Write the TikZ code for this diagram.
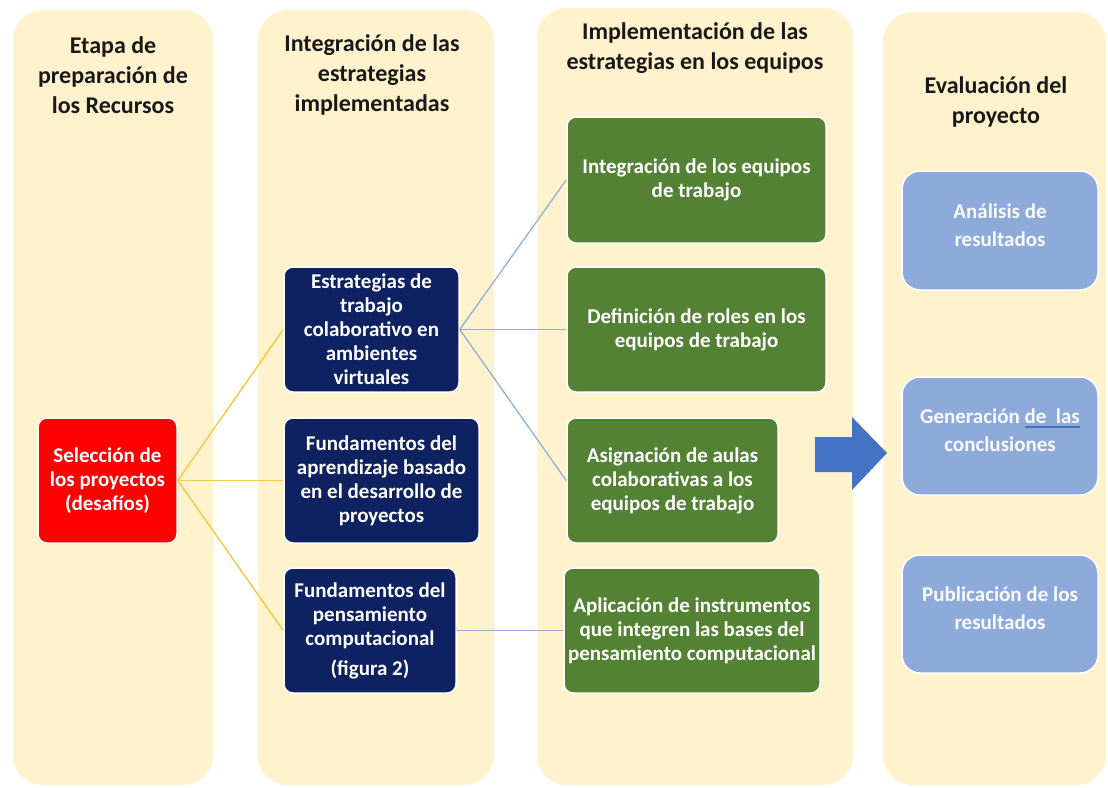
\documentclass[tikz,border=0pt]{standalone}
\usepackage{fontspec}
\setmainfont{Carlito}
\definecolor{beige}{HTML}{FFF2CC}
\definecolor{navy}{HTML}{0E2160}
\definecolor{grn}{HTML}{548235}
\definecolor{redbox}{HTML}{FF0000}
\definecolor{evblue}{HTML}{8EAADB}
\definecolor{arrowblue}{HTML}{4472C4}
\definecolor{yline}{HTML}{F2CB4E}
\definecolor{bline}{HTML}{8FB0DA}
\definecolor{ulblue}{HTML}{4472C4}
\newcommand\boxfont{\bfseries\fontsize{21}{24}\selectfont}
\newcommand\evfont{\bfseries\fontsize{21}{28}\selectfont}
\newcommand\titlefont{\bfseries\fontsize{24}{30}\selectfont}
\newcommand\blueul[1]{\setbox0\hbox{#1}\rlap{\color{ulblue}\rule[-4pt]{\wd0}{2pt}}\box0}
\tikzset{
  column/.style={fill=beige, rounded corners=30pt},
  coltitle/.style={font=\titlefont, text=black!90, align=center, inner sep=0pt},
  basebox/.style={rounded corners=9pt, draw=white, line width=1.5pt, text=white, align=center, inner sep=0pt},
  redstyle/.style={basebox, fill=redbox, font=\boxfont},
  navystyle/.style={basebox, fill=navy, font=\boxfont},
  greenstyle/.style={basebox, fill=grn, font=\boxfont},
  evstyle/.style={basebox, rounded corners=18pt, fill=evblue, font=\evfont, text=white!95!evblue},
  evtext/.style={font=\evfont, text=white!95!evblue, align=center, inner sep=0pt},
  yconn/.style={draw=yline, line width=1.5pt},
  bconn/.style={draw=bline, line width=1.3pt},
  bigarrow/.style={fill=arrowblue}
}
\begin{document}
\begin{tikzpicture}[x=1pt,y=-1pt]
\useasboundingbox (0,0) rectangle (1108,787);
\fill[white] (0,0) rectangle (1108,787);
% columns
\path[column] (13,10) rectangle (213,785);
\path[column] (258,10) rectangle (494,785);
\path[column] (537,8) rectangle (853,785);
\path[column] (883,12) rectangle (1106,785);
% titles
\node[coltitle] (t1) at (113,75) {Etapa de\\preparación de\\los Recursos};
\node[coltitle] (t2) at (372,75) {Integración de las\\estrategias\\implementadas};
\node[coltitle] (t3) at (695,48) {Implementación de las\\estrategias en los equipos};
\node[coltitle] (t4) at (996,102) {Evaluación del\\proyecto};
% boxes
\node[redstyle, minimum width=139, minimum height=125] (red) at (107.5,480.5) {Selección de\\los proyectos\\(desafíos)};
\node[navystyle, minimum width=175, minimum height=125] (b1) at (371.5,329.5) {Estrategias de\\trabajo\\colaborativo en\\ambientes\\virtuales};
\node[navystyle, minimum width=195, minimum height=125] (b2) at (381.5,480.5) {Fundamentos del\\aprendizaje basado\\en el desarrollo de\\proyectos};
\node[navystyle, minimum width=172, minimum height=125] (b3) at (370,630.5) {Fundamentos del\\pensamiento\\computacional\\[6pt](figura 2)};
\node[greenstyle, minimum width=259, minimum height=126] (g1) at (696.5,180) {Integración de los equipos\\de trabajo};
\node[greenstyle, minimum width=259, minimum height=125] (g2) at (696.5,329.5) {Definición de roles en los\\equipos de trabajo};
\node[greenstyle, minimum width=211, minimum height=125] (g3) at (672.5,480.5) {Asignación de aulas\\colaborativas a los\\equipos de trabajo};
\node[greenstyle, minimum width=256, minimum height=125] (g4) at (692,630.5) {Aplicación de instrumentos\\que integren las bases del\\pensamiento computacional};
\node[evstyle, minimum width=196, minimum height=119] (e1) at (1000,230.5) {};
\node[evtext] (e1t) at (1000,225) {Análisis de\\resultados};
\node[evstyle, minimum width=196, minimum height=118] (e2) at (1000,436) {};
\node[evtext] (e2t) at (1000,430.5) {Generación \blueul{de\ \ las}\\conclusiones};
\node[evstyle, minimum width=196, minimum height=118] (e3) at (1000,614) {};
\node[evtext] (e3t) at (1000,608) {Publicación de los\\resultados};
% connectors
\draw[yconn] (red.east) -- (b1.west);
\draw[yconn] (red.east) -- (b2.west);
\draw[yconn] (red.east) -- (b3.west);
\draw[bconn] (b1.east) -- (g1.west);
\draw[bconn] (b1.east) -- (g2.west);
\draw[bconn] (b1.east) -- (g3.west);
\draw[bconn] (b3.east) -- (g4.west);
% big arrow
\fill[bigarrow] (815,437) -- (852,437) -- (852,417) -- (887,453) -- (852,490) -- (852,472) -- (815,472) -- cycle;
\end{tikzpicture}
\end{document}
